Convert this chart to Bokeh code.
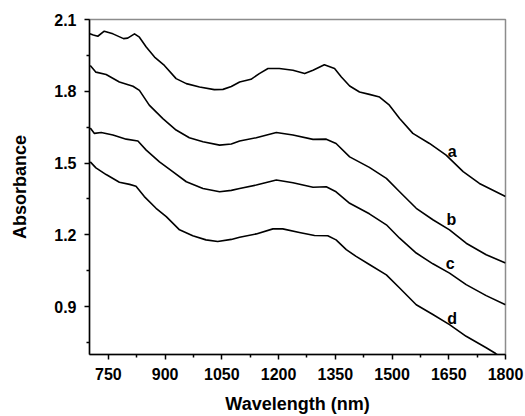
from bokeh.plotting import figure
from bokeh.models import FixedTicker
from bokeh.core.properties import value
from bokeh.embed import file_html
from bokeh.resources import INLINE

# ---- data ----
wl_a = [701, 710, 722, 739, 762, 790, 801, 819, 832, 850, 872, 898, 929, 956, 991, 1030, 1053, 1075,
        1097, 1127, 1149, 1172, 1202, 1238, 1269, 1291, 1321, 1348, 1366, 1388, 1414, 1440, 1467, 1493,
        1520, 1555, 1599, 1643, 1688, 1731, 1800]
abs_a = [2.040, 2.035, 2.030, 2.051, 2.040, 2.020, 2.022, 2.040, 2.026, 1.985, 1.943, 1.908, 1.853, 1.832,
         1.818, 1.807, 1.808, 1.820, 1.839, 1.850, 1.874, 1.895, 1.895, 1.888, 1.874, 1.888, 1.911, 1.895,
         1.860, 1.822, 1.797, 1.787, 1.776, 1.742, 1.686, 1.624, 1.582, 1.533, 1.464, 1.415, 1.360]

wl_b = [702, 717, 744, 779, 815, 832, 858, 894, 929, 964, 1000, 1044, 1075, 1097, 1141, 1194, 1238, 1291,
        1326, 1352, 1388, 1440, 1485, 1520, 1564, 1608, 1652, 1696, 1749, 1800]
abs_b = [1.908, 1.880, 1.870, 1.839, 1.821, 1.804, 1.742, 1.686, 1.638, 1.606, 1.589, 1.575, 1.580, 1.592,
         1.606, 1.628, 1.617, 1.599, 1.600, 1.582, 1.526, 1.482, 1.436, 1.380, 1.311, 1.263, 1.221, 1.165,
         1.117, 1.082]

wl_c = [702, 713, 731, 762, 797, 828, 850, 885, 920, 956, 1000, 1044, 1075, 1097, 1141, 1194, 1238, 1291,
        1326, 1352, 1388, 1440, 1485, 1520, 1564, 1608, 1652, 1696, 1749, 1800]
abs_c = [1.647, 1.624, 1.628, 1.617, 1.600, 1.592, 1.554, 1.505, 1.464, 1.422, 1.394, 1.380, 1.386, 1.394,
         1.408, 1.429, 1.418, 1.399, 1.401, 1.380, 1.332, 1.288, 1.242, 1.186, 1.124, 1.079, 1.040, 0.992,
         0.946, 0.908]

wl_d = [702, 717, 744, 779, 806, 823, 845, 876, 903, 938, 973, 1008, 1039, 1075, 1097, 1141, 1185, 1211,
        1255, 1295, 1330, 1352, 1379, 1405, 1440, 1485, 1520, 1564, 1608, 1652, 1696, 1749, 1774, 1800]
abs_d = [1.505, 1.480, 1.452, 1.420, 1.411, 1.403, 1.360, 1.311, 1.276, 1.221, 1.196, 1.179, 1.172, 1.181,
         1.190, 1.204, 1.225, 1.225, 1.210, 1.197, 1.196, 1.179, 1.138, 1.110, 1.076, 1.033, 0.978, 0.908,
         0.867, 0.825, 0.776, 0.728, 0.704, 0.675]

curve_names = ["a", "b", "c", "d"]
label_wl = [1659, 1657, 1654, 1659]
label_abs = [1.55, 1.265, 1.08, 0.849]

x_ticks = [750, 900, 1050, 1200, 1350, 1500, 1650, 1800]
x_minor = [825, 975, 1125, 1275, 1425, 1575, 1725]
y_ticks = [0.9, 1.2, 1.5, 1.8, 2.1]
y_minor = [0.75, 1.05, 1.35, 1.65, 1.95]

FONT = "Liberation Sans"

p = figure(width=525, height=416, x_range=(700, 1800), y_range=(0.7, 2.1),
           output_backend="svg", toolbar_location=None,
           min_border_left=89, min_border_right=20, min_border_top=19, min_border_bottom=61)
p.background_fill_color = "white"
p.border_fill_color = "white"
p.outline_line_color = "#8c8c8c"
p.outline_line_width = 1.5
p.grid.visible = False

for wl, ab in [(wl_a, abs_a), (wl_b, abs_b), (wl_c, abs_c), (wl_d, abs_d)]:
    p.line(wl, ab, line_color="black", line_width=1.6, line_join="round")

p.text(x=label_wl, y=label_abs, text=curve_names, text_font=value(FONT), text_font_style="bold",
       text_font_size="16px", text_align="center", text_baseline="middle", text_color="black")

p.xaxis.ticker = FixedTicker(ticks=x_ticks, minor_ticks=x_minor)
p.yaxis.ticker = FixedTicker(ticks=y_ticks, minor_ticks=y_minor)

for ax in (p.xaxis[0], p.yaxis[0]):
    ax.axis_line_color = "black"
    ax.axis_line_width = 1.5
    ax.major_tick_line_color = "black"
    ax.major_tick_line_width = 1.5
    ax.minor_tick_line_color = "black"
    ax.minor_tick_line_width = 1.5
    ax.major_tick_out = 5
    ax.major_tick_in = 0
    ax.minor_tick_out = 3
    ax.minor_tick_in = 0
    ax.major_label_text_font = FONT
    ax.major_label_text_font_style = "bold"
    ax.major_label_text_font_size = "16px"
    ax.major_label_text_color = "black"
    ax.axis_label_text_font = FONT
    ax.axis_label_text_font_style = "bold"
    ax.axis_label_text_font_size = "18px"
    ax.axis_label_text_color = "black"

p.xaxis.axis_label = "Wavelength (nm)"
p.xaxis.major_label_standoff = 8
p.xaxis.axis_label_standoff = 11
p.yaxis.axis_label = "Absorbance"
p.yaxis.major_label_standoff = 8
p.yaxis.axis_label_standoff = 21

open("out.html", "w").write(file_html(p, INLINE))
